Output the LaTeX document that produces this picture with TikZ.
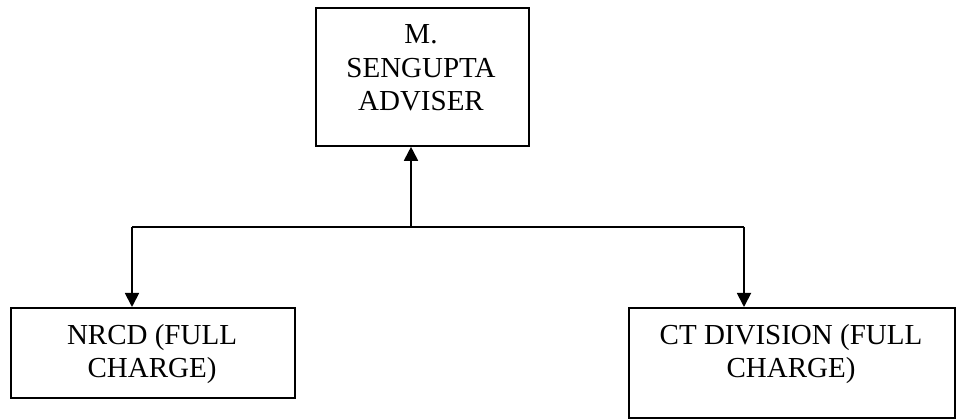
\documentclass[tikz,border=0pt]{standalone}
\usepackage{fontspec}
\setmainfont{Liberation Serif}
\usetikzlibrary{arrows.meta}
\begin{document}
\begin{tikzpicture}[x=1pt,y=1pt,
  boxstyle/.style={draw=black, line width=1.8pt, rectangle, inner sep=0pt, anchor=north west},
  txtstyle/.style={align=center, anchor=base, inner sep=0pt, font=\fontsize{29}{33.5}\selectfont},
  conn/.style={draw=black, line width=1.8pt},
  arr/.style={conn, -{Triangle[width=14pt,length=14pt]}}]
\useasboundingbox (0,0) rectangle (956,-419);
% boxes
\node[boxstyle, minimum width=213pt, minimum height=138pt] (top) at (315,-7) {};
\node[boxstyle, minimum width=284pt, minimum height=90pt] (nrcd) at (10,-307) {};
\node[boxstyle, minimum width=326pt, minimum height=110pt] (ct) at (628,-307) {};
% texts (anchor=base is the baseline of the last line)
\node[txtstyle] (toptxt) at (421,-111) {M.\\SENGUPTA\\ADVISER};
\node[txtstyle] (nrcdtxt) at (152,-378) {NRCD (FULL\\CHARGE)};
\node[txtstyle] (cttxt) at (791,-378) {CT DIVISION (FULL\\CHARGE)};
% connectors
\coordinate (jm) at (411,-227);
\coordinate (jl) at (132,-227);
\coordinate (jr) at (744,-227);
\draw[arr] (jm) -- (jm |- top.south);
\draw[conn] (jl) -- (jr);
\draw[arr] (jl) -- (jl |- nrcd.north);
\draw[arr] (jr) -- (jr |- ct.north);
\end{tikzpicture}
\end{document}
